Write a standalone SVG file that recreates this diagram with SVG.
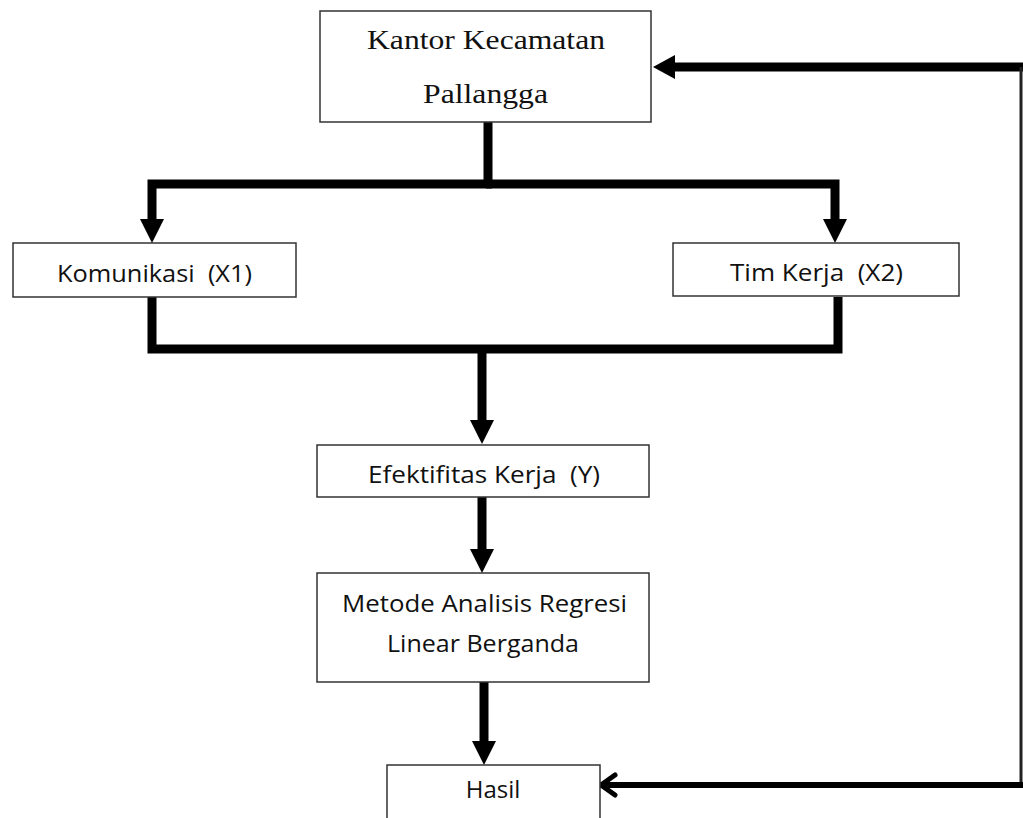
<svg xmlns="http://www.w3.org/2000/svg" width="1023" height="818" viewBox="0 0 1023 818">
<style>
.box{fill:#fff;stroke:#333;stroke-width:1.5}
.t{font-family:"Open Sans","Liberation Sans",sans-serif;font-size:24px;fill:#111;white-space:pre}
.s{font-family:"Liberation Serif","Times New Roman",serif;font-size:28px;fill:#111}
.c{fill:none;stroke:#000;stroke-width:9;stroke-linejoin:miter}
</style>
<defs>
<marker id="ah" viewBox="0 0 24 24" refX="0" refY="12" markerUnits="userSpaceOnUse" markerWidth="24" markerHeight="24" orient="auto">
<path d="M0,0 L24,12 L0,24 z" fill="#000"/>
</marker>
<marker id="ahl" viewBox="0 0 22 24" refX="0" refY="12" markerUnits="userSpaceOnUse" markerWidth="22" markerHeight="24" orient="auto">
<path d="M0,0 L22,12 L0,24 z" fill="#000"/>
</marker>
<marker id="open" viewBox="0 0 20 26" refX="18" refY="13" markerUnits="userSpaceOnUse" markerWidth="20" markerHeight="26" orient="auto">
<path d="M3,3 L17,13 L3,23" fill="none" stroke="#000" stroke-width="5" stroke-linecap="round" stroke-linejoin="round"/>
</marker>
</defs>
<rect width="1023" height="818" fill="#fff"/>
<g id="connectors">
<path class="c" d="M488,122 V184"/>
<path class="c" d="M492,184 H152 V219" marker-end="url(#ah)"/>
<path class="c" d="M486,184 H835 V219" marker-end="url(#ah)"/>
<path class="c" d="M152,297 V349 H838 V297"/>
<path class="c" d="M482,349 V420" marker-end="url(#ah)"/>
<path class="c" d="M482,497 V549" marker-end="url(#ah)"/>
<path class="c" d="M484,682 V741" marker-end="url(#ah)"/>
<path class="c" d="M1023,67 H675" marker-end="url(#ahl)"/>
<path fill="none" stroke="#222" stroke-width="3" d="M1021,67 V785"/>
<path fill="none" stroke="#000" stroke-width="6" d="M1023,785 H600" marker-end="url(#open)"/>
</g>
<g id="kantor">
<rect class="box" x="320" y="11" width="331" height="111"/>
<text class="s" x="367" y="49" textLength="238" lengthAdjust="spacingAndGlyphs">Kantor Kecamatan</text>
<text class="s" x="423" y="103" font-size="30" textLength="125" lengthAdjust="spacingAndGlyphs">Pallangga</text>
</g>
<g id="komunikasi">
<rect class="box" x="13" y="243" width="283" height="54"/>
<text class="t" x="57" y="282" textLength="195" lengthAdjust="spacingAndGlyphs">Komunikasi  (X1)</text>
</g>
<g id="timkerja">
<rect class="box" x="673" y="243" width="286" height="53"/>
<text class="t" x="730" y="281" textLength="173" lengthAdjust="spacingAndGlyphs">Tim Kerja  (X2)</text>
</g>
<g id="efektifitas">
<rect class="box" x="317" y="445" width="332" height="52"/>
<text class="t" x="368" y="483" textLength="232" lengthAdjust="spacingAndGlyphs">Efektifitas Kerja  (Y)</text>
</g>
<g id="metode">
<rect class="box" x="317" y="573" width="332" height="109"/>
<text class="t" x="342" y="612" textLength="285" lengthAdjust="spacingAndGlyphs">Metode Analisis Regresi</text>
<text class="t" x="387" y="652" textLength="192" lengthAdjust="spacingAndGlyphs">Linear Berganda</text>
</g>
<g id="hasil">
<rect class="box" x="387" y="765" width="213" height="60"/>
<text class="t" x="493" y="798" text-anchor="middle">Hasil</text>
</g>
</svg>
